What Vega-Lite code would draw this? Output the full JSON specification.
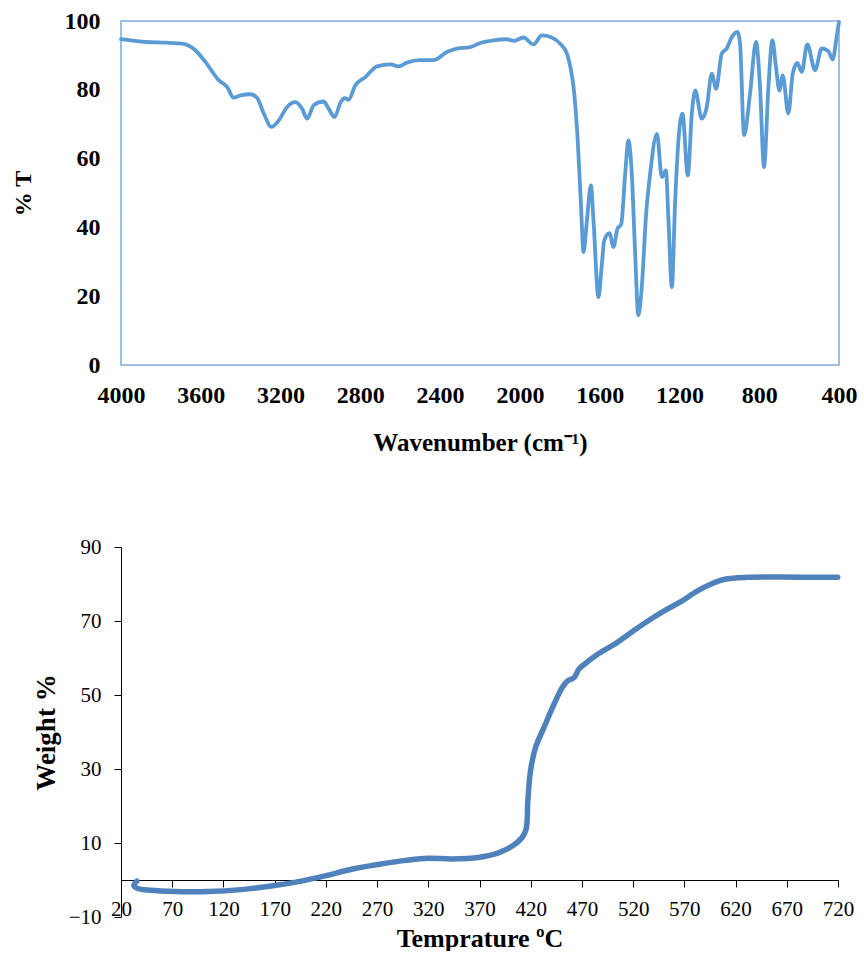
{
  "$schema": "https://vega.github.io/schema/vega-lite/v6.json",
  "background": "white",
  "padding": {"left": 10, "top": 8, "right": 10, "bottom": 0},
  "spacing": 80,
  "config": {"font": "Liberation Serif"},
  "datasets": {
    "ir": [
      {"wavenumber": 4000, "transmittance": 94.7},
      {"wavenumber": 3940, "transmittance": 94.3},
      {"wavenumber": 3877, "transmittance": 93.9},
      {"wavenumber": 3777, "transmittance": 93.7},
      {"wavenumber": 3693, "transmittance": 93.4},
      {"wavenumber": 3627, "transmittance": 91.5},
      {"wavenumber": 3577, "transmittance": 88.1},
      {"wavenumber": 3510, "transmittance": 82.8},
      {"wavenumber": 3468, "transmittance": 80.8},
      {"wavenumber": 3435, "transmittance": 77.7},
      {"wavenumber": 3401, "transmittance": 78.4},
      {"wavenumber": 3351, "transmittance": 78.7},
      {"wavenumber": 3318, "transmittance": 77.7},
      {"wavenumber": 3284, "transmittance": 73.1},
      {"wavenumber": 3246, "transmittance": 69.2},
      {"wavenumber": 3209, "transmittance": 71.1},
      {"wavenumber": 3167, "transmittance": 75.0},
      {"wavenumber": 3126, "transmittance": 76.4},
      {"wavenumber": 3092, "transmittance": 74.5},
      {"wavenumber": 3067, "transmittance": 71.6},
      {"wavenumber": 3034, "transmittance": 75.5},
      {"wavenumber": 2984, "transmittance": 76.6},
      {"wavenumber": 2959, "transmittance": 74.5},
      {"wavenumber": 2929, "transmittance": 72.1},
      {"wavenumber": 2900, "transmittance": 76.2},
      {"wavenumber": 2879, "transmittance": 77.6},
      {"wavenumber": 2859, "transmittance": 77.1},
      {"wavenumber": 2825, "transmittance": 81.3},
      {"wavenumber": 2775, "transmittance": 83.7},
      {"wavenumber": 2716, "transmittance": 86.8},
      {"wavenumber": 2650, "transmittance": 87.4},
      {"wavenumber": 2608, "transmittance": 86.8},
      {"wavenumber": 2566, "transmittance": 87.9},
      {"wavenumber": 2499, "transmittance": 88.6},
      {"wavenumber": 2433, "transmittance": 88.6},
      {"wavenumber": 2366, "transmittance": 91.0},
      {"wavenumber": 2316, "transmittance": 92.0},
      {"wavenumber": 2249, "transmittance": 92.4},
      {"wavenumber": 2199, "transmittance": 93.6},
      {"wavenumber": 2132, "transmittance": 94.4},
      {"wavenumber": 2065, "transmittance": 94.7},
      {"wavenumber": 2032, "transmittance": 94.2},
      {"wavenumber": 1982, "transmittance": 95.2},
      {"wavenumber": 1932, "transmittance": 93.2},
      {"wavenumber": 1890, "transmittance": 95.8},
      {"wavenumber": 1840, "transmittance": 95.2},
      {"wavenumber": 1798, "transmittance": 93.4},
      {"wavenumber": 1764, "transmittance": 90.5},
      {"wavenumber": 1744, "transmittance": 85.7},
      {"wavenumber": 1731, "transmittance": 80.8},
      {"wavenumber": 1711, "transmittance": 66.3},
      {"wavenumber": 1694, "transmittance": 46.9},
      {"wavenumber": 1681, "transmittance": 32.8},
      {"wavenumber": 1664, "transmittance": 42.0},
      {"wavenumber": 1644, "transmittance": 52.2},
      {"wavenumber": 1631, "transmittance": 42.0},
      {"wavenumber": 1606, "transmittance": 19.7},
      {"wavenumber": 1589, "transmittance": 29.4},
      {"wavenumber": 1577, "transmittance": 36.2},
      {"wavenumber": 1551, "transmittance": 38.3},
      {"wavenumber": 1531, "transmittance": 34.3},
      {"wavenumber": 1511, "transmittance": 39.6},
      {"wavenumber": 1492, "transmittance": 40.9},
      {"wavenumber": 1472, "transmittance": 55.6},
      {"wavenumber": 1456, "transmittance": 65.3},
      {"wavenumber": 1439, "transmittance": 55.6},
      {"wavenumber": 1422, "transmittance": 32.3},
      {"wavenumber": 1406, "transmittance": 14.4},
      {"wavenumber": 1389, "transmittance": 22.6},
      {"wavenumber": 1367, "transmittance": 44.0},
      {"wavenumber": 1347, "transmittance": 55.6},
      {"wavenumber": 1313, "transmittance": 67.2},
      {"wavenumber": 1288, "transmittance": 54.6},
      {"wavenumber": 1268, "transmittance": 56.6},
      {"wavenumber": 1255, "transmittance": 42.0},
      {"wavenumber": 1238, "transmittance": 22.6},
      {"wavenumber": 1222, "transmittance": 46.9},
      {"wavenumber": 1205, "transmittance": 65.3},
      {"wavenumber": 1185, "transmittance": 73.1},
      {"wavenumber": 1158, "transmittance": 55.1},
      {"wavenumber": 1138, "transmittance": 73.1},
      {"wavenumber": 1121, "transmittance": 79.8},
      {"wavenumber": 1088, "transmittance": 71.6},
      {"wavenumber": 1063, "transmittance": 75.0},
      {"wavenumber": 1038, "transmittance": 84.7},
      {"wavenumber": 1016, "transmittance": 80.3},
      {"wavenumber": 988, "transmittance": 90.5},
      {"wavenumber": 963, "transmittance": 92.0},
      {"wavenumber": 938, "transmittance": 95.3},
      {"wavenumber": 908, "transmittance": 96.8},
      {"wavenumber": 896, "transmittance": 93.4},
      {"wavenumber": 876, "transmittance": 66.8},
      {"wavenumber": 846, "transmittance": 78.9},
      {"wavenumber": 816, "transmittance": 93.9},
      {"wavenumber": 796, "transmittance": 80.8},
      {"wavenumber": 776, "transmittance": 57.5},
      {"wavenumber": 754, "transmittance": 80.8},
      {"wavenumber": 734, "transmittance": 94.4},
      {"wavenumber": 716, "transmittance": 86.6},
      {"wavenumber": 699, "transmittance": 79.8},
      {"wavenumber": 682, "transmittance": 84.2},
      {"wavenumber": 654, "transmittance": 73.1},
      {"wavenumber": 632, "transmittance": 84.7},
      {"wavenumber": 609, "transmittance": 87.8},
      {"wavenumber": 587, "transmittance": 85.2},
      {"wavenumber": 559, "transmittance": 93.2},
      {"wavenumber": 520, "transmittance": 85.7},
      {"wavenumber": 487, "transmittance": 92.0},
      {"wavenumber": 454, "transmittance": 91.3},
      {"wavenumber": 432, "transmittance": 88.8},
      {"wavenumber": 412, "transmittance": 95.3},
      {"wavenumber": 400, "transmittance": 99.7}
    ],
    "tga": [
      {"i": 0, "temperature": 35.5, "weight": -0.3},
      {"i": 1, "temperature": 32.5, "weight": -1.5},
      {"i": 2, "temperature": 36.5, "weight": -2.3},
      {"i": 3, "temperature": 49, "weight": -2.8},
      {"i": 4, "temperature": 72, "weight": -3.1},
      {"i": 5, "temperature": 105, "weight": -3.1},
      {"i": 6, "temperature": 137, "weight": -2.6},
      {"i": 7, "temperature": 170, "weight": -1.5},
      {"i": 8, "temperature": 196, "weight": -0.3},
      {"i": 9, "temperature": 219, "weight": 1.1},
      {"i": 10, "temperature": 245, "weight": 2.9},
      {"i": 11, "temperature": 271, "weight": 4.2},
      {"i": 12, "temperature": 298, "weight": 5.3},
      {"i": 13, "temperature": 320, "weight": 5.9},
      {"i": 14, "temperature": 343, "weight": 5.7},
      {"i": 15, "temperature": 369, "weight": 6.1},
      {"i": 16, "temperature": 389, "weight": 7.4},
      {"i": 17, "temperature": 402, "weight": 9.2},
      {"i": 18, "temperature": 411.6, "weight": 11.5},
      {"i": 19, "temperature": 415.5, "weight": 13.7},
      {"i": 20, "temperature": 417.2, "weight": 21.4},
      {"i": 21, "temperature": 419.8, "weight": 29.5},
      {"i": 22, "temperature": 424.7, "weight": 35.8},
      {"i": 23, "temperature": 432.9, "weight": 41.2},
      {"i": 24, "temperature": 442.7, "weight": 47.5},
      {"i": 25, "temperature": 450.8, "weight": 52.0},
      {"i": 26, "temperature": 456, "weight": 53.8},
      {"i": 27, "temperature": 462.5, "weight": 54.7},
      {"i": 28, "temperature": 467, "weight": 57.0},
      {"i": 29, "temperature": 472.3, "weight": 58.3},
      {"i": 30, "temperature": 485.4, "weight": 61.0},
      {"i": 31, "temperature": 501.7, "weight": 63.7},
      {"i": 32, "temperature": 518, "weight": 66.9},
      {"i": 33, "temperature": 534.4, "weight": 70.0},
      {"i": 34, "temperature": 550.7, "weight": 72.8},
      {"i": 35, "temperature": 567, "weight": 75.3},
      {"i": 36, "temperature": 583.3, "weight": 78.2},
      {"i": 37, "temperature": 599.6, "weight": 80.4},
      {"i": 38, "temperature": 609.4, "weight": 81.3},
      {"i": 39, "temperature": 632.3, "weight": 81.8},
      {"i": 40, "temperature": 665, "weight": 81.9},
      {"i": 41, "temperature": 697.5, "weight": 81.8},
      {"i": 42, "temperature": 719.7, "weight": 81.8}
    ]
  },
  "vconcat": [
    {
      "width": 718,
      "height": 344,
      "view": {"stroke": "#7FABDD", "strokeWidth": 1.5},
      "data": {"name": "ir"},
      "mark": {"type": "line", "color": "#5B9BD5", "strokeWidth": 3.8, "interpolate": "monotone", "strokeJoin": "round", "strokeCap": "round"},
      "encoding": {
        "x": {
          "field": "wavenumber", "type": "quantitative",
          "scale": {"domain": [400, 4000], "reverse": true, "nice": false, "zero": false},
          "axis": {
            "values": [4000, 3600, 3200, 2800, 2400, 2000, 1600, 1200, 800, 400],
            "format": "d", "title": "Wavenumber (cm⁻¹)", "grid": false, "domain": false, "ticks": false, "tickSize": 0,
            "labelFont": "Liberation Serif", "labelFontWeight": "bold", "labelFontSize": 24, "labelColor": "black",
            "labelPadding": 18, "labelFlush": false, "labelOverlap": false,
            "titleFont": "Liberation Serif", "titleFontSize": 25, "titleFontWeight": "bold", "titleColor": "black", "titlePadding": 23
          }
        },
        "y": {
          "field": "transmittance", "type": "quantitative",
          "scale": {"domain": [0, 100], "nice": false},
          "axis": {
            "values": [0, 20, 40, 60, 80, 100], "title": "% T", "grid": false, "domain": false, "ticks": false, "tickSize": 0,
            "labelFont": "Liberation Serif", "labelFontWeight": "bold", "labelFontSize": 24, "labelColor": "black",
            "labelPadding": 21, "labelFlush": false, "labelOverlap": false,
            "titleFont": "Liberation Serif", "titleFontSize": 24, "titleFontWeight": "bold", "titleColor": "black", "titlePadding": 29
          }
        },
        "order": {"field": "wavenumber", "sort": "descending"}
      }
    },
    {
      "width": 717,
      "height": 370,
      "view": {"stroke": null},
      "data": {"name": "tga"},
      "mark": {"type": "line", "color": "#4F81BD", "strokeWidth": 5.5, "interpolate": "catmull-rom", "strokeJoin": "round", "strokeCap": "round"},
      "encoding": {
        "x": {
          "field": "temperature", "type": "quantitative",
          "scale": {"domain": [20, 720], "nice": false, "zero": false},
          "axis": {
            "values": [20, 70, 120, 170, 220, 270, 320, 370, 420, 470, 520, 570, 620, 670, 720],
            "offset": -37, "title": "Temprature ºC", "grid": false,
            "domainColor": "black", "domainWidth": 1, "tickColor": "black", "tickSize": 7, "tickWidth": 1,
            "labelFont": "Liberation Serif", "labelFontSize": 21, "labelColor": "black",
            "labelPadding": 11, "labelFlush": false, "labelOverlap": false,
            "titleFont": "Liberation Serif", "titleFontSize": 26, "titleFontWeight": "bold", "titleColor": "black", "titlePadding": 6
          }
        },
        "y": {
          "field": "weight", "type": "quantitative",
          "scale": {"domain": [-10, 90], "nice": false, "zero": false},
          "axis": {
            "values": [-10, 10, 30, 50, 70, 90], "title": "Weight  %", "grid": false,
            "domainColor": "black", "domainWidth": 1, "tickColor": "black", "tickSize": 7, "tickWidth": 1,
            "labelFont": "Liberation Serif", "labelFontSize": 21, "labelColor": "black",
            "labelPadding": 13, "labelFlush": false, "labelOverlap": false,
            "titleFont": "Liberation Serif", "titleFontSize": 27, "titleFontWeight": "bold", "titleColor": "black", "titlePadding": 8
          }
        },
        "order": {"field": "i"}
      }
    }
  ]
}
